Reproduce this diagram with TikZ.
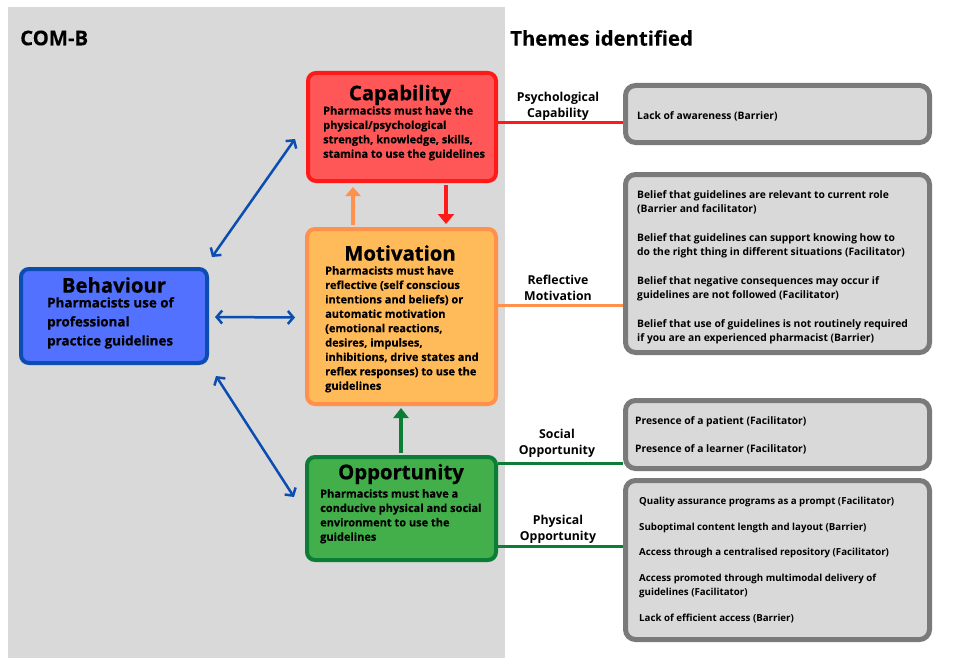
\documentclass[tikz,border=0pt]{standalone}
\usepackage{fontspec}
\setmainfont{Open Sans}
\newfontfamily\heavyfont{Open Sans}[BoldFeatures={FakeBold=0.7}]
\newfontfamily\midfont{Open Sans}[BoldFeatures={FakeBold=0.3}]
\usetikzlibrary{arrows.meta,calc}
\definecolor{bg}{HTML}{D9D9D9}
\definecolor{capfill}{HTML}{FF5757}
\definecolor{capline}{HTML}{FF1A1A}
\definecolor{motfill}{HTML}{FFBA5A}
\definecolor{motline}{HTML}{FF914D}
\definecolor{behfill}{HTML}{5271FF}
\definecolor{behline}{HTML}{0B4DB0}
\definecolor{oppfill}{HTML}{42AF4A}
\definecolor{oppline}{HTML}{0C7D35}
\definecolor{boxline}{HTML}{7A7A7A}
\begin{document}
\begin{tikzpicture}[x=1pt,y=-1pt,
  combox/.style={rectangle, rounded corners=8pt, line width=4pt, inner sep=0pt},
  themebox/.style={rectangle, rounded corners=10pt, line width=5pt, draw=boxline, fill=bg, minimum width=304pt, inner sep=0pt},
  ctitle/.style={font=\heavyfont\bfseries\fontsize{20.3}{22}\selectfont, inner sep=0pt},
  cbody/.style={font=\midfont\bfseries\fontsize{11}{14.4}\selectfont, align=left, anchor=north west, inner sep=0pt},
  tbody/.style={font=\bfseries\fontsize{10.3}{14}\selectfont, align=left, anchor=north west, inner sep=0pt},
  tsmall/.style={tbody, font=\bfseries\fontsize{9.7}{14}\selectfont},
  tlabel/.style={font=\bfseries\fontsize{12.3}{16}\selectfont, align=center, inner sep=0pt},
  heading/.style={font=\midfont\bfseries\fontsize{20.3}{22}\selectfont, anchor=west, inner sep=0pt},
  barrow/.style={behline, line width=2.5pt, {Straight Barb[length=5.5pt,width=13pt]}-{Straight Barb[length=5.5pt,width=13pt]}},
  vline/.style={line width=4pt}
]
\useasboundingbox[fill=white] (0,0) rectangle (973,658);
\fill[bg] (8,7) rectangle (505,658);

\node[heading] (comb) at (20,38) {COM-B};
\node[heading] (themes) at (510,38) {Themes identified};

% COM-B boxes
\node[combox, draw=capline, fill=capfill, minimum width=188pt, minimum height=108pt] (cap) at (402,127) {};
\node[combox, draw=motline, fill=motfill, minimum width=189pt, minimum height=175pt] (mot) at (401.5,316.5) {};
\node[combox, draw=behline, fill=behfill, minimum width=186pt, minimum height=94pt] (beh) at (114,316) {};
\node[combox, draw=oppline, fill=oppfill, minimum width=189pt, minimum height=103pt] (opp) at (401.5,508.5) {};

\node[ctitle] (capt) at (400,95) {Capability};
\node[cbody] (capb) at (323,106) {Pharmacists must have the\\physical/psychological\\strength, knowledge, skills,\\stamina to use the guidelines};

\node[ctitle] (mott) at (400,253) {Motivation};
\node[cbody] (motb) at (325,266) {Pharmacists must have\\reflective (self conscious\\intentions and beliefs) or\\automatic motivation\\(emotional reactions,\\desires, impulses,\\inhibitions, drive states and\\reflex responses) to use the\\guidelines};

\node[ctitle] (beht) at (114,285) {Behaviour};
\node[cbody, font=\midfont\bfseries\fontsize{13.4}{19}\selectfont] (behb) at (47,297) {Pharmacists use of\\professional\\practice guidelines};

\node[ctitle] (oppt) at (401,474) {Opportunity};
\node[cbody] (oppb) at (320,489) {Pharmacists must have a\\conducive physical and social\\environment to use the\\guidelines};

% arrows between COM-B boxes
\draw[barrow] ($(beh.north east)+(3,-10)$) -- ($(cap.west)+(-11,12)$);
\draw[barrow] ($(beh.east)+(6,1)$) -- ($(mot.west)+(-10,1)$);
\draw[barrow] ($(beh.south east)+(7,11)$) -- ($(opp.west)+(-11,-11.5)$);

\draw[vline, motline, -{Triangle[length=9pt,width=15pt]}] ($(mot.north)+(-48.5,-2)$) -- ($(cap.south)+(-49,4)$);
\draw[vline, capline, -{Triangle[length=10pt,width=16pt]}] ($(cap.south)+(44,2)$) -- ($(mot.north)+(44.5,-3)$);
\draw[vline, oppline, -{Triangle[length=10pt,width=15pt]}] ($(opp.north)+(-0.5,-2)$) -- ($(mot.south)+(-0.5,2)$);

% theme boxes
\node[themebox, minimum height=57pt] (t1) at (777.5,114) {};
\node[themebox, minimum height=178pt] (t2) at (777.5,263.5) {};
\node[themebox, minimum height=68pt] (t3) at (777.5,434.5) {};
\node[themebox, minimum height=159pt] (t4) at (777.5,560) {};

% connectors
\draw[line width=3pt, capline] (cap.east |- 0,122) -- (t1.west |- 0,122);
\draw[line width=3pt, motline] (mot.east |- 0,305) -- (t2.west |- 0,305);
\draw[line width=3pt, oppline] (opp.east |- 0,463) -- (t3.west |- 0,463);
\draw[line width=3pt, oppline] (opp.east |- 0,546) -- (t4.west |- 0,546);

% labels
\node[tlabel] (l1) at (558,106) {Psychological\\Capability};
\node[tlabel] (l2) at (558,288) {Reflective\\Motivation};
\node[tlabel] (l3) at (557,443) {Social\\Opportunity};
\node[tlabel] (l4) at (558,529) {Physical\\Opportunity};

% theme texts
\node[tbody] (t1a) at (637,111) {Lack of awareness (Barrier)};
\node[tbody] (t2a) at (637,190) {Belief that guidelines are relevant to current role\\(Barrier and facilitator)};
\node[tbody] (t2b) at (637,233) {Belief that guidelines can support knowing how to\\do the right thing in different situations (Facilitator)};
\node[tbody] (t2c) at (637,276) {Belief that negative consequences may occur if\\guidelines are not followed (Facilitator)};
\node[tbody] (t2d) at (637,319) {Belief that use of guidelines is not routinely required\\if you are an experienced pharmacist (Barrier)};
\node[tbody] (t3a) at (635,416) {Presence of a patient (Facilitator)};
\node[tbody] (t3b) at (635,444) {Presence of a learner (Facilitator)};
\node[tsmall] (t4a) at (639,497) {Quality assurance programs as a prompt (Facilitator)};
\node[tsmall] (t4b) at (639,523) {Suboptimal content length and layout (Barrier)};
\node[tsmall] (t4c) at (639,548) {Access through a centralised repository (Facilitator)};
\node[tsmall] (t4d) at (639,574) {Access promoted through multimodal delivery of\\guidelines (Facilitator)};
\node[tsmall] (t4e) at (639,614) {Lack of efficient access (Barrier)};
\end{tikzpicture}
\end{document}
